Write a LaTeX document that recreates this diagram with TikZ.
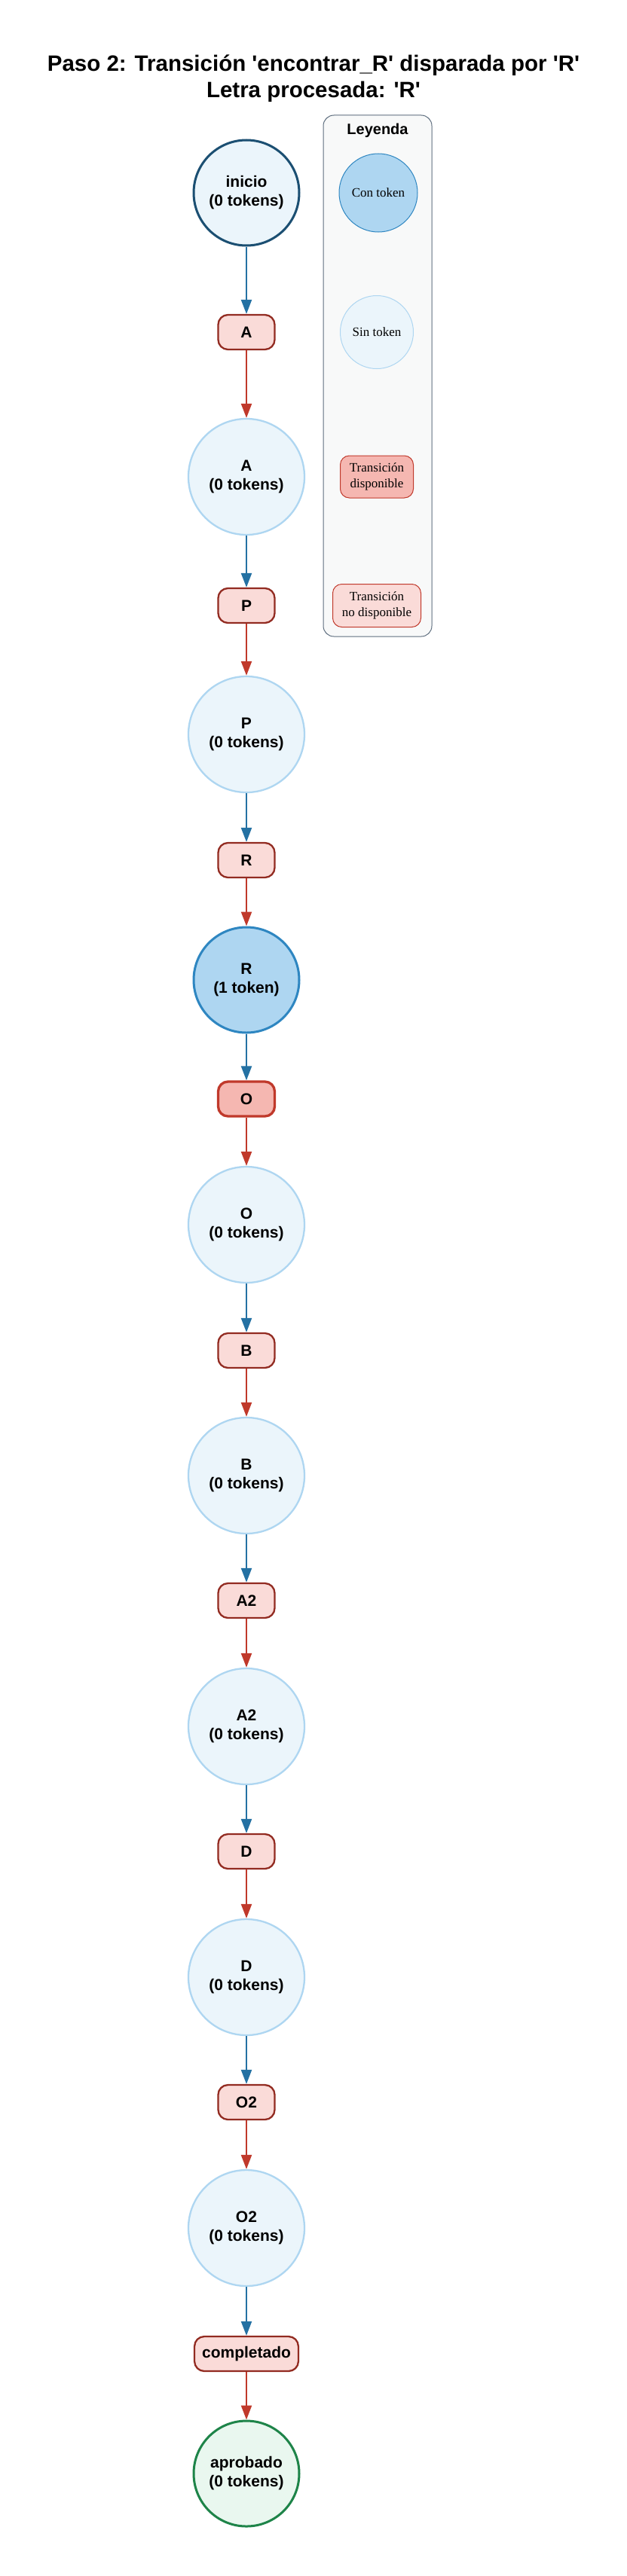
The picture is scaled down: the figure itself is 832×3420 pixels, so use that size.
\documentclass[tikz,border=0pt]{standalone}
\usepackage{fontspec}
\setmainfont{Liberation Sans}
\newfontfamily\legserif{Liberation Serif}
\usetikzlibrary{arrows.meta}
\definecolor{placefill}{HTML}{EBF5FB}
\definecolor{placeedge}{HTML}{AED6F1}
\definecolor{startedge}{HTML}{1B4F72}
\definecolor{tokfill}{HTML}{AED6F1}
\definecolor{tokedge}{HTML}{2E86C1}
\definecolor{endfill}{HTML}{E9F7EF}
\definecolor{endedge}{HTML}{1E8449}
\definecolor{trfill}{HTML}{FADBD8}
\definecolor{tredge}{HTML}{922B21}
\definecolor{travfill}{HTML}{F5B7B1}
\definecolor{travedge}{HTML}{C0392B}
\definecolor{arcblue}{HTML}{2471A3}
\definecolor{arcred}{HTML}{C0392B}
\definecolor{legfill}{HTML}{F8F9F9}
\definecolor{legedge}{HTML}{5D6D7E}
\newcommand{\sq}{\textquotesingle}
\tikzset{
  place/.style={circle, draw=placeedge, fill=placefill, line width=2.3pt,
    minimum size=154pt, inner sep=0pt, align=center,
    font=\fontsize{21}{25}\selectfont\bfseries},
  startplace/.style={place, draw=startedge, line width=3pt, minimum size=140pt},
  tokplace/.style={place, fill=tokfill, draw=tokedge, line width=3pt, minimum size=140pt},
  endplace/.style={place, fill=endfill, draw=endedge, line width=3pt, minimum size=140pt},
  trans/.style={rectangle, rounded corners=13pt, draw=tredge, fill=trfill,
    line width=2.3pt, minimum width=75pt, minimum height=46pt, inner xsep=10pt,
    font=\fontsize{21}{24}\selectfont\bfseries},
  transav/.style={trans, fill=travfill, draw=travedge, line width=3.3pt},
  arcp/.style={draw=arcblue, line width=2.2pt, -{Triangle[width=14pt,length=19pt]}},
  arct/.style={draw=arcred, line width=2.2pt, -{Triangle[width=14pt,length=19pt]}},
  legtext/.style={font=\legserif\fontsize{17}{21}\selectfont, align=center, inner sep=0pt},
}
\begin{document}
\begin{tikzpicture}[x=1pt, y=-1pt]
\fill[white] (0,0) rectangle (832,3420);
\useasboundingbox (0,0) rectangle (832,3420);

% title
\node[align=center, font=\fontsize{29.5}{35}\selectfont\bfseries] (title) at (416,104.5)
  {Paso 2: Transición \sq encontrar\_R\sq{} disparada por \sq R\sq\\Letra procesada: \sq R\sq};

% legend
\node[draw=legedge, fill=legfill, rounded corners=14pt, line width=1pt,
      minimum width=144pt, minimum height=692pt] (legend) at (501,499) {};
\node[font=\fontsize{20}{24}\selectfont\bfseries] (legtitle) at (501,173) {Leyenda};
\node[legtext, circle, fill=tokfill, draw=tokedge, line width=1pt, minimum size=104pt] (legtok) at (502,256) {Con token};
\node[legtext, circle, fill=placefill, draw=placeedge, line width=1pt, minimum size=97pt] (legsin) at (500,441) {Sin token};
\node[legtext, rectangle, rounded corners=12pt, fill=travfill, draw=travedge, line width=1pt, minimum width=97pt, minimum height=56pt] (legdisp) at (500,633) {Transición\\disponible};
\node[legtext, rectangle, rounded corners=12pt, fill=trfill, draw=travedge, line width=1pt, minimum width=117pt, minimum height=57pt] (legno) at (500,804) {Transición\\no disponible};

% net
\node[startplace] (inicio) at (327,256) {inicio\\(0 tokens)};
\node[trans] (tA) at (327,441) {A};
\node[place] (pA) at (327,633) {A\\(0 tokens)};
\node[trans] (tP) at (327,804) {P};
\node[place] (pP) at (327,975) {P\\(0 tokens)};
\node[trans] (tR) at (327,1142) {R};
\node[tokplace] (pR) at (327,1301) {R\\(1 token)};
\node[transav] (tO) at (327,1459) {O};
\node[place] (pO) at (327,1626) {O\\(0 tokens)};
\node[trans] (tB) at (327,1793) {B};
\node[place] (pB) at (327,1959) {B\\(0 tokens)};
\node[trans] (tA2) at (327,2125) {A2};
\node[place] (pA2) at (327,2292) {A2\\(0 tokens)};
\node[trans] (tD) at (327,2458) {D};
\node[place] (pD) at (327,2625) {D\\(0 tokens)};
\node[trans] (tO2) at (327,2791) {O2};
\node[place] (pO2) at (327,2958) {O2\\(0 tokens)};
\node[trans] (tC) at (327,3125) {completado};
\node[endplace] (aprobado) at (327,3284) {aprobado\\(0 tokens)};

\draw[arcp] (inicio) -- (tA);
\draw[arct] (tA) -- (pA);
\draw[arcp] (pA) -- (tP);
\draw[arct] (tP) -- (pP);
\draw[arcp] (pP) -- (tR);
\draw[arct] (tR) -- (pR);
\draw[arcp] (pR) -- (tO);
\draw[arct] (tO) -- (pO);
\draw[arcp] (pO) -- (tB);
\draw[arct] (tB) -- (pB);
\draw[arcp] (pB) -- (tA2);
\draw[arct] (tA2) -- (pA2);
\draw[arcp] (pA2) -- (tD);
\draw[arct] (tD) -- (pD);
\draw[arcp] (pD) -- (tO2);
\draw[arct] (tO2) -- (pO2);
\draw[arcp] (pO2) -- (tC);
\draw[arct] (tC) -- (aprobado);
\end{tikzpicture}
\end{document}
